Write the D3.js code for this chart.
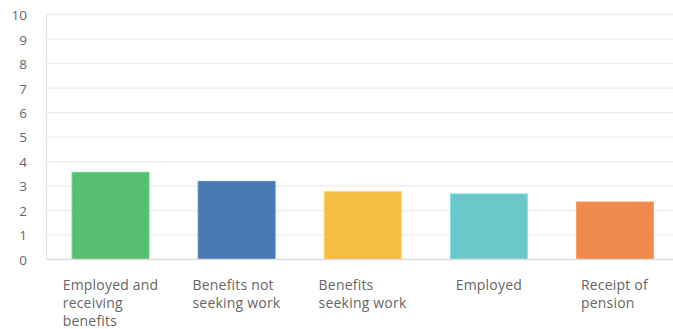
<!DOCTYPE html>
<html>
<head>
<meta charset="utf-8">
<script src="https://cdn.jsdelivr.net/npm/d3@7"></script>
<style>
  html, body { margin: 0; padding: 0; background: #fff; }
  svg { display: block; }
  text { font-family: "Open Sans", "Noto Sans", sans-serif; }
</style>
</head>
<body>
<svg id="chart" width="673" height="329"></svg>
<script>
// Average score per employment status
const categories = [
  ["Employed and", "receiving", "benefits"],
  ["Benefits not", "seeking work"],
  ["Benefits", "seeking work"],
  ["Employed"],
  ["Receipt of", "pension"]
];
const values = [3.56, 3.19, 2.77, 2.68, 2.35];
const colors = ["#58bf71", "#4b79b3", "#f6bd43", "#6bc8ca", "#f08a4c"];
const yTicks = [0, 1, 2, 3, 4, 5, 6, 7, 8, 9, 10];

const svg = d3.select("#chart");
const plotLeft = 46.5, plotTop = 14.7, plotBottom = 259.5, plotRight = 678;

const x = d3.scaleBand()
  .domain(d3.range(values.length))
  .range([plotLeft + 1, plotRight])
  .paddingInner(0.39)
  .paddingOuter(0.195);

const y = d3.scaleLinear().domain([0, 10]).range([plotBottom, plotTop]);

// horizontal gridlines
svg.append("g")
  .selectAll("line")
  .data(yTicks.filter(d => d > 0))
  .join("line")
  .attr("x1", plotLeft).attr("x2", 673)
  .attr("y1", d => y(d)).attr("y2", d => y(d))
  .attr("stroke", "#ececec").attr("stroke-width", 1.2);

// y axis labels
const yAxis = d3.axisLeft(y).tickValues(yTicks).tickSize(0).tickPadding(0).tickFormat(d3.format("d"));
const gy = svg.append("g").attr("transform", `translate(27,0)`).call(yAxis);
gy.select(".domain").remove();
gy.selectAll("text")
  .attr("fill", "#666")
  .style("font-size", "13.5px")
  .attr("dy", "0.36em");

// left axis line
svg.append("line")
  .attr("x1", plotLeft).attr("x2", plotLeft)
  .attr("y1", plotTop).attr("y2", plotBottom)
  .attr("stroke", "#e3e3e3").attr("stroke-width", 1.2);

// bars
svg.append("g")
  .selectAll("rect")
  .data(values)
  .join("rect")
  .attr("x", (d, i) => x(i))
  .attr("width", x.bandwidth())
  .attr("y", d => y(d))
  .attr("height", d => y(0) - y(d))
  .attr("fill", (d, i) => colors[i])
  .attr("stroke", (d, i) => d3.color(colors[i]).brighter(0.35))
  .attr("stroke-width", 1);

// baseline
svg.append("line")
  .attr("x1", plotLeft).attr("x2", 673)
  .attr("y1", plotBottom).attr("y2", plotBottom)
  .attr("stroke", "#dcdcdc").attr("stroke-width", 1.5);

// category labels: left-aligned lines, block centred under each bar
const labels = svg.append("g")
  .selectAll("text")
  .data(categories)
  .join("text")
  .attr("fill", "#666")
  .style("font-size", "14px")
  .style("letter-spacing", "0.2px")
  .attr("y", 290);

labels.each(function(lines, i) {
  const t = d3.select(this);
  lines.forEach((ln, j) => {
    t.append("tspan").attr("x", 0).attr("dy", j === 0 ? 0 : 18.2).text(ln);
  });
  const w = this.getBBox().width;
  const cx = x(i) + x.bandwidth() / 2;
  t.attr("transform", `translate(${cx - w / 2},0)`);
});
</script>
</body>
</html>
